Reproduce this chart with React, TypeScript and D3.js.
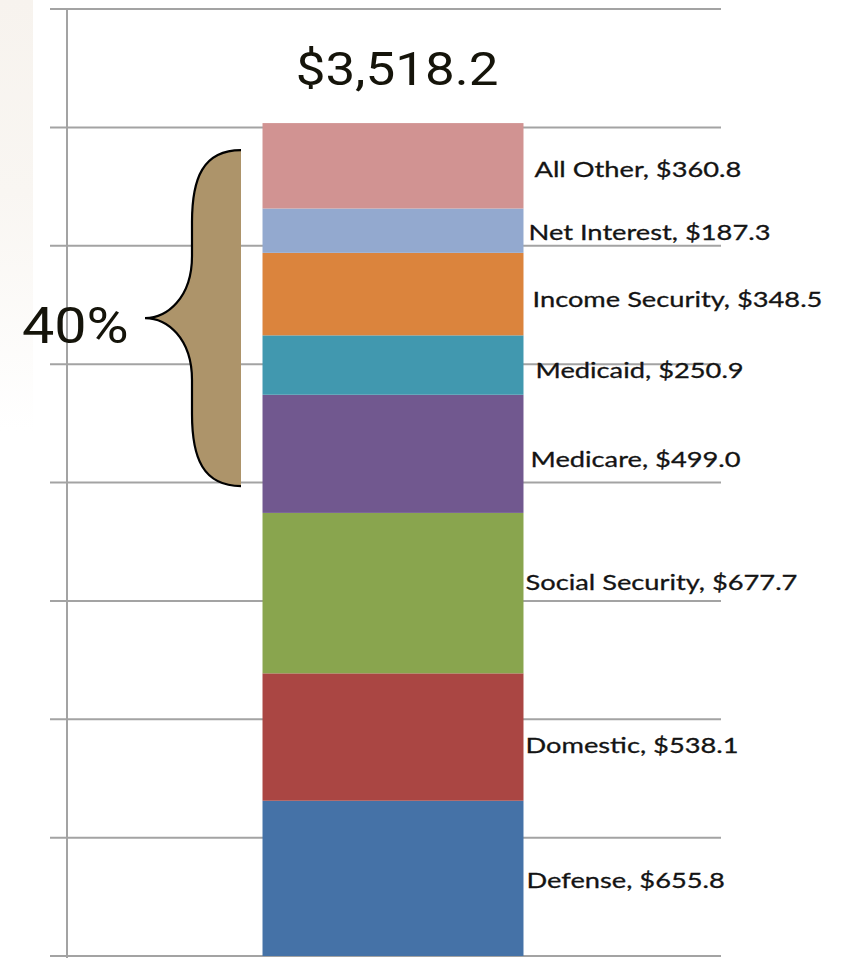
import React from "react";
import * as d3 from "d3";

const categories = [
  "Defense",
  "Domestic",
  "Social Security",
  "Medicare",
  "Medicaid",
  "Income Security",
  "Net Interest",
  "All Other",
];
const values = [655.8, 538.1, 677.7, 499.0, 250.9, 348.5, 187.3, 360.8];
const totalLabel = "$3,518.2";
const yTicks = [0, 500, 1000, 1500, 2000, 2500, 3000, 3500, 4000];
const braceLabel = "40%";
const braceSpan = [1985, 3404];
const colors = ["#4572A7", "#AA4643", "#89A54E", "#71588F", "#4198AF", "#DB843D", "#93A9CF", "#D19392"];
// small manual nudges of the data labels (as in the original)
const labelDx = [3, 2, 2, 7, 12, 9, 5, 11];
const labelDy = [2, 8, -11, 5, 5, 5, 1, 3];

const W = 844;
const H = 958;

export default function App() {
  const y = d3.scaleLinear().domain([0, 4000]).range([956, 9]);
  const x = d3.scaleBand<string>().domain(["FY"]).range([66, 720]).paddingInner(0).paddingOuter(0.753);
  const bx = x("FY") as number;
  const bw = x.bandwidth();

  const stackData = [Object.fromEntries(categories.map((c, i) => [c, values[i]]))];
  const series = d3.stack<any>().keys(categories)(stackData as any);
  const total = d3.sum(values);

  // brace geometry
  const bTop = y(braceSpan[1]);
  const bBot = y(braceSpan[0]);
  const bMid = (bTop + bBot) / 2;
  const R = 241;
  const tip = 145;
  const v = R - 49;
  const upper = `M${R},${bTop} C${R - 38},${bTop} ${v},${bTop + 28} ${v},${bTop + 72} L${v},${bMid - 62} C${v},${bMid - 20} ${tip + 22},${bMid} ${tip},${bMid}`;
  const lower = `C${tip + 22},${bMid} ${v},${bMid + 20} ${v},${bMid + 62} L${v},${bBot - 72} C${v},${bBot - 28} ${R - 38},${bBot} ${R},${bBot}`;
  const stroke = `${upper} ${lower}`;
  const fill = `${stroke} Z`;

  return (
    <div style={{ position: "absolute", left: 0, top: 0 }}>
      <svg width={W} height={H} style={{ display: "block", background: "#fff" }}>
        <defs>
          <linearGradient id="edge" x1="0" y1="0" x2="0" y2="1">
            <stop offset="0" stopColor="#f7f3ee" />
            <stop offset="0.2" stopColor="#f9f6f2" />
            <stop offset="0.45" stopColor="#ffffff" />
          </linearGradient>
        </defs>
        <rect x={0} y={0} width={33} height={H} fill="url(#edge)" />
        {/* gridlines */}
        {yTicks.map((t) => (
          <line key={t} x1={50} x2={721} y1={y(t)} y2={y(t)} stroke="#a3a3a3" strokeWidth={2} />
        ))}
        {/* axis */}
        <line x1={67} x2={67} y1={y(4000)} y2={H} stroke="#a3a3a3" strokeWidth={2} />
        {/* stacked bar */}
        {series.map((s, i) => (
          <rect
            key={s.key}
            x={bx}
            width={bw}
            y={y(s[0][1])}
            height={y(s[0][0]) - y(s[0][1])}
            fill={colors[i]}
          />
        ))}
        {/* labels */}
        {series.map((s, i) => {
          const mid = (y(s[0][0]) + y(s[0][1])) / 2;
          return (
            <g key={s.key} transform={`translate(${bx + bw + labelDx[i]},${mid + 8 + labelDy[i]}) scale(1.24,1)`}>
              <text
                x={0}
                y={0}
                fontFamily="Lato, sans-serif"
                fontSize={22}
                fill="#141414"
                stroke="#141414"
                strokeWidth={0.3}
              >
                {`${categories[i]}, $${d3.format(".1f")(values[i])}`}
              </text>
            </g>
          );
        })}
        {/* total */}
        <g transform={`translate(${bx + bw / 2 + 4},${y(total) - 38}) scale(1.15,1)`}>
          <text x={0} y={0} textAnchor="middle" fontFamily="Roboto, sans-serif" fontSize={46} fill="#15140a">
            {totalLabel}
          </text>
        </g>
        {/* brace */}
        <path d={fill} fill="#ad946a" stroke="none" />
        <path d={stroke} fill="none" stroke="#000" strokeWidth={2.2} />
        <g transform={`translate(22,${bMid + 25}) scale(1.15,1)`}>
          <text x={0} y={0} fontFamily="Roboto, sans-serif" fontSize={50} fill="#15140a">
            {braceLabel}
          </text>
        </g>
      </svg>
    </div>
  );
}
